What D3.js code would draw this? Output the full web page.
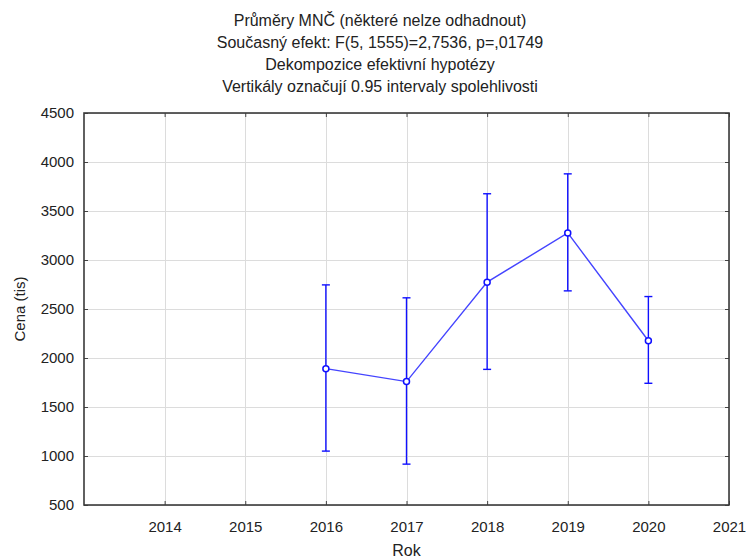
<!DOCTYPE html>
<html>
<head>
<meta charset="utf-8">
<script src="https://cdn.jsdelivr.net/npm/d3@7"></script>
<style>
  body { margin: 0; background: #fff; }
  svg { display: block; font-family: "Liberation Sans", Arial, sans-serif; }
</style>
</head>
<body>
<svg id="chart" width="747" height="558"></svg>
<script>
// Least-squares means of price by year with 95% confidence intervals
const years = [2016, 2017, 2018, 2019, 2020];
const means = [1891, 1759, 2774, 3276, 2176];
const lower = [1050, 917, 1884, 2685, 1742];
const upper = [2746, 2614, 3676, 3879, 2627];

const xTicks = [2014, 2015, 2016, 2017, 2018, 2019, 2020, 2021];
const yTicks = [500, 1000, 1500, 2000, 2500, 3000, 3500, 4000, 4500];

const titleLines = [
  "Průměry MNČ (některé nelze odhadnout)",
  "Současný efekt: F(5, 1555)=2,7536, p=,01749",
  "Dekompozice efektivní hypotézy",
  "Vertikály označují 0.95 intervaly spolehlivosti"
];

const margin = { left: 84, right: 18, top: 113, bottom: 53 };
const W = 747, H = 558;
const svg = d3.select("#chart");

const x = d3.scaleLinear().domain([2013, 2021]).range([margin.left, W - margin.right]);
const y = d3.scaleLinear().domain([500, 4500]).range([H - margin.bottom, margin.top]);

// grid
const grid = svg.append("g").attr("stroke", "#dcdcdc").attr("stroke-width", 1);
grid.selectAll(".gx").data(xTicks).join("line")
  .attr("x1", d => Math.round(x(d)) + 0.5).attr("x2", d => Math.round(x(d)) + 0.5)
  .attr("y1", y(4500)).attr("y2", y(500));
grid.selectAll(".gy").data(yTicks).join("line")
  .attr("y1", d => Math.round(y(d)) + 0.5).attr("y2", d => Math.round(y(d)) + 0.5)
  .attr("x1", x(2013)).attr("x2", x(2021));

// axes with inward ticks
const tickStyle = g => {
  g.select(".domain").remove();
  g.selectAll(".tick line").attr("stroke", "#444");
  g.selectAll(".tick text").attr("fill", "#222").style("font-size", "15px");
};
svg.append("g").attr("transform", `translate(0,${y(500)})`)
  .call(d3.axisBottom(x).tickValues(xTicks).tickFormat(d3.format("d")).tickSizeInner(-4).tickPadding(16))
  .call(tickStyle);
svg.append("g").attr("transform", `translate(0,${y(4500)})`)
  .call(d3.axisTop(x).tickValues(xTicks).tickFormat("").tickSizeInner(-4))
  .call(tickStyle);
svg.append("g").attr("transform", `translate(${x(2013)},0)`)
  .call(d3.axisLeft(y).tickValues(yTicks).tickFormat(d3.format("d")).tickSizeInner(-4).tickPadding(10))
  .call(tickStyle);
svg.append("g").attr("transform", `translate(${x(2021)},0)`)
  .call(d3.axisRight(y).tickValues(yTicks).tickFormat("").tickSizeInner(-4))
  .call(tickStyle);

// frame
svg.append("rect")
  .attr("x", x(2013)).attr("y", y(4500))
  .attr("width", x(2021) - x(2013)).attr("height", y(500) - y(4500))
  .attr("fill", "none").attr("stroke", "#3a3a3a").attr("stroke-width", 1.6);

// error bars
const data = years.map((yr, i) => ({ yr, m: means[i], lo: lower[i], hi: upper[i] }));
const eb = svg.append("g").attr("stroke", "#1010ff").attr("stroke-width", 1.4).attr("fill", "none");
eb.selectAll(".v").data(data).join("line")
  .attr("x1", d => x(d.yr)).attr("x2", d => x(d.yr))
  .attr("y1", d => y(d.lo)).attr("y2", d => y(d.hi));
eb.selectAll(".ct").data(data).join("line")
  .attr("x1", d => x(d.yr) - 4).attr("x2", d => x(d.yr) + 4)
  .attr("y1", d => y(d.hi)).attr("y2", d => y(d.hi));
eb.selectAll(".cb").data(data).join("line")
  .attr("x1", d => x(d.yr) - 4).attr("x2", d => x(d.yr) + 4)
  .attr("y1", d => y(d.lo)).attr("y2", d => y(d.lo));

// mean line
svg.append("path").datum(data)
  .attr("fill", "none").attr("stroke", "#4444ff").attr("stroke-width", 1.4)
  .attr("d", d3.line().x(d => x(d.yr)).y(d => y(d.m)));

// markers
svg.append("g").selectAll("circle").data(data).join("circle")
  .attr("cx", d => x(d.yr)).attr("cy", d => y(d.m)).attr("r", 3)
  .attr("fill", "#fff").attr("stroke", "#1010ff").attr("stroke-width", 1.5);

// titles
svg.append("g").selectAll("text").data(titleLines).join("text")
  .attr("x", 380).attr("y", (d, i) => 26 + i * 22)
  .attr("text-anchor", "middle").attr("fill", "#222")
  .style("font-size", "16px").text(d => d);

// axis titles
svg.append("text").attr("x", (x(2013) + x(2021)) / 2).attr("y", 556)
  .attr("text-anchor", "middle").attr("fill", "#222").style("font-size", "16px").text("Rok");
svg.append("text").attr("transform", `translate(25,${(y(500) + y(4500)) / 2}) rotate(-90)`)
  .attr("text-anchor", "middle").attr("fill", "#222").style("font-size", "15px").text("Cena (tis)");
</script>
</body>
</html>
